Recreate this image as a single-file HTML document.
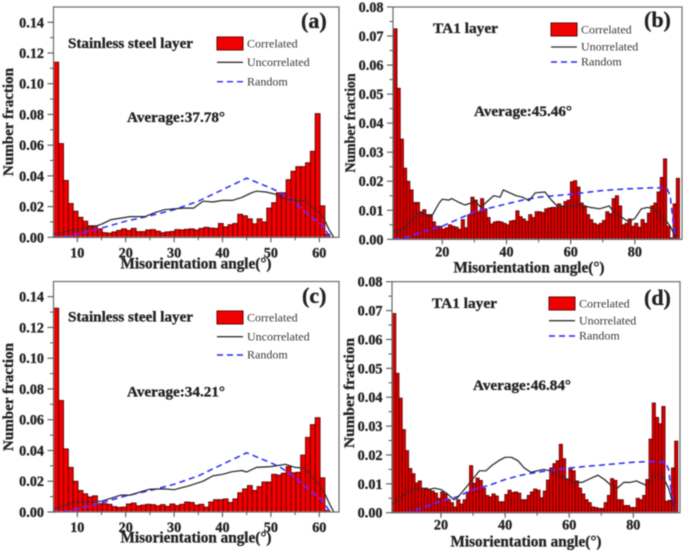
<!DOCTYPE html>
<html>
<head>
<meta charset="utf-8">
<title>Misorientation angle distributions</title>
<style>
html,body{margin:0;padding:0;background:#fff;width:685px;height:552px;overflow:hidden}
svg{display:block}
text{font-family:"Liberation Serif",serif;fill:#222}
text[font-weight="bold"]{stroke:#222;stroke-width:.3px}
.leg{font-size:12px;fill:#3a3a3a}
</style>
</head>
<body>
<svg id="fig" width="685" height="552" viewBox="0 0 685 552" xmlns="http://www.w3.org/2000/svg">
<defs><filter id="soft" x="-2%" y="-2%" width="104%" height="104%"><feGaussianBlur stdDeviation="0.42"/></filter></defs>
<g id="root" filter="url(#soft)"></g>
</svg>
<script>
// Shared axis ticks
const stainlessYTicks = [0, 0.02, 0.04, 0.06, 0.08, 0.10, 0.12, 0.14];
const stainlessXTicks = [10, 20, 30, 40, 50, 60];
const ta1YTicks = [0, 0.01, 0.02, 0.03, 0.04, 0.05, 0.06, 0.07, 0.08];
const ta1XTicks = [20, 40, 60, 80];

// Panel (a)
const barsA = [.114,.061,.037,.022,.017,.013,.0105,.0075,.0075,.0055,.003,.0027,.0035,.0045,.0055,.0045,.0058,.0037,.0037,.0048,.005,.004,.003,.0035,.0038,.005,.0048,.0052,.0055,.0048,.0058,.0065,.006,.0058,.009,.0068,.0082,.009,.015,.014,.012,.0088,.012,.010,.019,.0225,.029,.029,.0375,.043,.046,.046,.0485,.056,.0805,.0205,.002];
const uncorrAnglesA = [5,8,10,12,14,15,17,19,21,24,26,28,30,32,34,36,38,40,42,44,46,47,49,51,53,55,57,59,60,61,62,63];
const uncorrValuesA = [.002,.004,.005,.006,.0075,.0085,.0115,.0125,.0135,.0135,.016,.018,.0185,.019,.019,.0235,.023,.024,.024,.026,.029,.03,.0295,.028,.025,.024,.024,.018,.016,.012,.005,0];
const randomAnglesA = [5,8,10,15,20,25,30,35,40,45,50,52,55,58,60,61,62,63];
const randomValuesA = [0,.0005,.002,.006,.0105,.014,.018,.0235,.031,.0385,.032,.029,.0225,.014,.0095,.006,.001,0];

// Panel (b)
const barsB = [.0725,.052,.0345,.0245,.02,.017,.0127,.0127,.0095,.0102,.0085,.0085,.006,.0045,.0045,.0035,.004,.005,.0045,.0042,.0035,.0068,.004,.0085,.0145,.0135,.0095,.014,.0105,.0075,.0053,.006,.0062,.006,.0055,.005,.0063,.0065,.0098,.0078,.007,.0062,.0085,.0075,.0095,.0095,.0092,.0105,.0108,.011,.011,.0122,.0115,.013,.0135,.0198,.0202,.018,.0125,.0112,.0085,.0068,.0055,.005,.0055,.0065,.0095,.0088,.014,.015,.0115,.005,.0055,.007,.0045,.0055,.0042,.0068,.0055,.009,.0115,.0125,.0163,.0213,.0277,.0045,.0005,.0122,.021];
const uncorrAnglesB = [5,7,8,10,12,14,16,17,19,20,22,23,25,27,29,30,32,34,36,38,39,41,43,45,47,49,52,54,56,60,63,66,69,72,74,76,78,80,82,84,86,88,90,91,93];
const uncorrValuesB = [.003,.003,.0035,.006,.0085,.009,.0075,.0085,.0125,.0138,.0135,.014,.0128,.0118,.0125,.0135,.011,.013,.015,.0145,.017,.016,.015,.0145,.0133,.016,.0163,.0135,.0112,.0115,.012,.011,.0105,.0115,.0085,.0075,.006,.0072,.0105,.011,.0105,.0085,.006,.0045,0];
const randomAnglesB = [5,10,15,20,25,30,35,40,45,50,55,60,65,70,75,80,85,89,90,91,92,93];
const randomValuesB = [0,.001,.003,.0045,.007,.0095,.0108,.0122,.0135,.0145,.015,.0155,.0162,.0168,.0172,.0175,.0177,.0177,.0175,.015,.005,0];

// Panel (c)
const barsC = [.1325,.0725,.041,.029,.02,.014,.0118,.0098,.0105,.0055,.0055,.005,.0035,.003,.0032,.0052,.0058,.004,.0045,.005,.0048,.004,.0048,.0037,.0052,.0042,.005,.0065,.0062,.0045,.005,.0032,.0065,.008,.008,.0085,.0062,.0085,.0125,.015,.0172,.014,.0165,.0195,.0195,.0245,.024,.0252,.0295,.0255,.0258,.037,.0485,.0568,.0613,.0222,.001];
const uncorrAnglesC = [5,7,10,13,15,17,19,21,23,25,28,30,33,36,38,40,42,44,45,47,50,53,55,57,58,60,61,62,63];
const uncorrValuesC = [.002,.004,.0065,.0065,.007,.009,.011,.011,.013,.0148,.015,.0145,.017,.02,.0235,.0245,.0262,.027,.026,.029,.0295,.031,.029,.0285,.025,.0175,.013,.006,0];
const randomAnglesC = [5,8,10,15,20,25,30,35,40,45,50,52,55,58,60,61,62,63];
const randomValuesC = [0,.0005,.002,.006,.0105,.014,.018,.0235,.031,.0385,.032,.029,.0225,.014,.0095,.006,.001,0];

// Panel (d)
const barsD = [.069,.0483,.0397,.0288,.0215,.0153,.0135,.0103,.011,.0085,.0085,.008,.0075,.0068,.005,.0072,.0065,.0045,.0035,.002,.0045,.003,.0045,.0072,.0163,.0102,.012,.0112,.0085,.006,.0055,.0065,.0058,.0038,.0038,.0063,.0078,.007,.0072,.0068,.0045,.0045,.006,.0072,.0082,.0078,.0052,.0075,.0113,.0155,.017,.018,.0237,.0187,.0115,.0155,.0145,.011,.0085,.0065,.0045,.0035,.002,.0018,.0015,.0015,.0035,.006,.0118,.0112,.0045,.0045,.0025,.0025,.0018,.0018,.005,.0045,.006,.0115,.0255,.038,.033,.0308,.0368,.004,.0043,.0155,.0248];
const uncorrAnglesD = [5,7,10,12,14,16,18,20,22,24,25,28,30,32,34,36,38,40,42,44,46,48,50,52,54,56,58,60,62,64,66,68,69,71,73,75,77,79,81,84,85,87,89,91,93];
const uncorrValuesD = [.003,.005,.0072,.0085,.0085,.008,.0085,.008,.0065,.0045,.005,.009,.0118,.0145,.0145,.0165,.018,.0192,.0192,.018,.0155,.014,.0145,.015,.0145,.0135,.012,.0115,.0105,.0105,.0115,.0125,.013,.0115,.0095,.0085,.0105,.0105,.011,.0095,.0105,.0135,.013,.0085,.0005];
const randomAnglesD = [9,12,15,20,25,30,35,40,45,50,55,60,65,70,75,80,85,90,91,92,93];
const randomValuesD = [0,.0008,.002,.004,.0055,.008,.0095,.0115,.013,.014,.0148,.0155,.016,.0165,.017,.0175,.0177,.0175,.015,.006,0];

const firstBin = 5;
const NS = 'http://www.w3.org/2000/svg';
const root = document.getElementById('root');

function make(parent, tag, attrs, txt) {
  const el = document.createElementNS(NS, tag);
  for (const k in attrs) el.setAttribute(k, attrs[k]);
  if (txt !== undefined) el.textContent = txt;
  parent.appendChild(el);
  return el;
}

function drawPanel(p) {
  const g = make(root, 'g', {});
  
  
  const xAxis = v => p.x0 + (v - p.xRef) * p.xk;
  const yAxis = v => p.y0 - v * p.yk;

  // bars
  const barGroup = make(g, 'g', {});
  
  
  p.bars.forEach((v, i) => {
    const left = xAxis(firstBin + i + p.binShift);
    const r = make(barGroup, 'rect', {x: left.toFixed(2), y: yAxis(v).toFixed(2), width: p.xk.toFixed(2), height: (p.y0 - yAxis(v)).toFixed(2), fill: p.barFill, stroke: '#3a0000', 'stroke-width': p.barStroke});
    
    
  });

  // lines
  const toPts = (as, vs) => as.map((a, i) => xAxis(a).toFixed(1) + ',' + yAxis(vs[i]).toFixed(1)).join(' ');
  const rnd = make(g, 'polyline', {points: toPts(p.randA, p.randV), fill: 'none', stroke: '#2a2af0', 'stroke-width': 1.5, 'stroke-dasharray': '6 4'});
  
  
  const unc = make(g, 'polyline', {points: toPts(p.uncA, p.uncV), fill: 'none', stroke: '#222', 'stroke-width': 1.2, 'stroke-linejoin': 'round'});
  
  

  // frame
  const frame = make(g, 'rect', {x: p.left, y: p.top, width: p.right - p.left, height: p.y0 - p.top, fill: 'none', stroke: '#6a6a6a', 'stroke-width': 1.2});
  
  

  // y ticks
  p.yTicks.forEach((v, i) => {
    const y = yAxis(v);
    const t = make(g, 'line', {x1: p.left - 6, x2: p.left, y1: y, y2: y, stroke: '#555', 'stroke-width': 1.1});
    
    
    const l = make(g, 'text', {x: p.left - 9.5, y: y + 5, 'text-anchor': 'end', 'font-size': 14.2, 'font-weight': 'bold'}, v.toFixed(2));
    
    
    if (i < p.yTicks.length - 1) {
      const mid = yAxis((v + p.yTicks[i + 1]) / 2);
      const m = make(g, 'line', {x1: p.left - 3.5, x2: p.left, y1: mid, y2: mid, stroke: '#555', 'stroke-width': 1});
      
      
    }
  });

  // x ticks
  p.xTicks.forEach((v, i) => {
    const x = xAxis(v);
    const t = make(g, 'line', {x1: x, x2: x, y1: p.y0, y2: p.y0 + 5, stroke: '#555', 'stroke-width': 1.1});
    
    
    const l = make(g, 'text', {x: x, y: p.y0 + p.xLabelDy, 'text-anchor': 'middle', 'font-size': 14.2, 'font-weight': 'bold'}, String(v));
    
    
    if (i < p.xTicks.length - 1) {
      const mx = xAxis((v + p.xTicks[i + 1]) / 2);
      const m = make(g, 'line', {x1: mx, x2: mx, y1: p.y0, y2: p.y0 + 3, stroke: '#555', 'stroke-width': 1});
      
      
    }
  });

  // axis titles
  const xt = make(g, 'text', {x: p.xTitleX, y: p.xTitleY, 'text-anchor': 'middle', 'font-size': 16, 'font-weight': 'bold', textLength: 151, lengthAdjust: 'spacingAndGlyphs'}, 'Misorientation angle(°)');
  
  
  const yt = make(g, 'text', {transform: 'translate(' + p.yTitleX + ',' + p.yTitleY + ') rotate(-90)', 'text-anchor': 'middle', 'font-size': 15, 'font-weight': 'bold', textLength: p.yTitleLen, lengthAdjust: 'spacingAndGlyphs'}, 'Number fraction');
  
  

  // annotations
  const lt = make(g, 'text', {x: p.layerX, y: p.layerY, 'font-size': 14.5, 'font-weight': 'bold', textLength: p.layerLen, lengthAdjust: 'spacingAndGlyphs'}, p.layer);
  
  
  const av = make(g, 'text', {x: p.avgX, y: p.avgY, 'font-size': 14.5, 'font-weight': 'bold', textLength: 98, lengthAdjust: 'spacingAndGlyphs'}, p.avg);
  
  
  const tag = make(g, 'text', {x: p.tagX, y: p.tagY, 'font-size': 22, 'font-weight': 'bold'}, p.tag);
  
  

  // legend
  const lg = make(g, 'g', {});
  
  
  const sw = make(lg, 'rect', {x: p.legX, y: p.legY, width: 26, height: 13, fill: '#f00000', stroke: '#500', 'stroke-width': 1});
  
  
  const t1 = make(lg, 'text', {x: p.legX + 30, y: p.legY + 10.7, class: 'leg'}, 'Correlated');
  
  
  const l2 = make(lg, 'line', {x1: p.legX, x2: p.legX + 26, y1: p.legY + p.gap1, y2: p.legY + p.gap1, stroke: '#333', 'stroke-width': 1.3});
  
  
  const t2 = make(lg, 'text', {x: p.legX + 30, y: p.legY + p.gap1 + 3.7, class: 'leg'}, p.uncName);
  
  
  const l3 = make(lg, 'line', {x1: p.legX, x2: p.legX + 26, y1: p.legY + p.gap2, y2: p.legY + p.gap2, stroke: '#2a2af0', 'stroke-width': 1.4, 'stroke-dasharray': '6 4'});
  
  
  const t3 = make(lg, 'text', {x: p.legX + 30, y: p.legY + p.gap2 + 3.7, class: 'leg'}, 'Random');
  
  
}

drawPanel({id:'a', bars:barsA, uncA:uncorrAnglesA, uncV:uncorrValuesA, randA:randomAnglesA, randV:randomValuesA,
  left:53.5, right:339, top:7, y0:237.3, x0:77.3, xRef:10, xk:4.84, yk:1536, binShift:.15, barFill:'#f00000', barStroke:.9,
  yTicks:stainlessYTicks, xTicks:stainlessXTicks, xLabelDy:20, xTitleX:196, xTitleY:268.5, yTitleX:13, yTitleY:122, yTitleLen:108,
  layer:'Stainless steel layer', layerX:68, layerY:48, layerLen:125, avg:'Average:37.78°', avgX:127, avgY:122,
  tag:'(a)', tagX:301, tagY:28, legX:217, legY:37, gap1:25.3, gap2:44.7, uncName:'Uncorrelated'});

drawPanel({id:'b', bars:barsB, uncA:uncorrAnglesB, uncV:uncorrValuesB, randA:randomAnglesB, randV:randomValuesB,
  left:393, right:682, top:7, y0:239.3, x0:442.3, xRef:20, xk:3.21, yk:2904, binShift:-.1, barFill:'#d80000', barStroke:.8,
  yTicks:ta1YTicks, xTicks:ta1XTicks, xLabelDy:17, xTitleX:529, xTitleY:272.7, yTitleX:355, yTitleY:123, yTitleLen:99,
  layer:'TA1 layer', layerX:433, layerY:33, layerLen:65, avg:'Average:45.46°', avgX:474, avgY:116,
  tag:'(b)', tagX:644, tagY:27, legX:551, legY:23, gap1:24, gap2:39, uncName:'Unorrelated'});

drawPanel({id:'c', bars:barsC, uncA:uncorrAnglesC, uncV:uncorrValuesC, randA:randomAnglesC, randV:randomValuesC,
  left:53.5, right:339, top:281.5, y0:512, x0:77.3, xRef:10, xk:4.84, yk:1538, binShift:.15, barFill:'#f00000', barStroke:.9,
  yTicks:stainlessYTicks, xTicks:stainlessXTicks, xLabelDy:20, xTitleX:196, xTitleY:542.7, yTitleX:13, yTitleY:397, yTitleLen:108,
  layer:'Stainless steel layer', layerX:68, layerY:321.7, layerLen:125, avg:'Average:34.21°', avgX:127, avgY:396.7,
  tag:'(c)', tagX:302, tagY:303, legX:217, legY:311, gap1:25.7, gap2:44, uncName:'Uncorrelated'});

drawPanel({id:'d', bars:barsD, uncA:uncorrAnglesD, uncV:uncorrValuesD, randA:randomAnglesD, randV:randomValuesD,
  left:392, right:680, top:281.7, y0:512.7, x0:441, xRef:20, xk:3.205, yk:2887, binShift:-.1, barFill:'#d80000', barStroke:.8,
  yTicks:ta1YTicks, xTicks:ta1XTicks, xLabelDy:17, xTitleX:526, xTitleY:546.7, yTitleX:354, yTitleY:393, yTitleLen:110,
  layer:'TA1 layer', layerX:432, layerY:308, layerLen:65, avg:'Average:46.84°', avgX:473, avgY:390,
  tag:'(d)', tagX:644, tagY:305, legX:549, legY:297, gap1:23.7, gap2:39, uncName:'Unorrelated'});
</script>
</body>
</html>
